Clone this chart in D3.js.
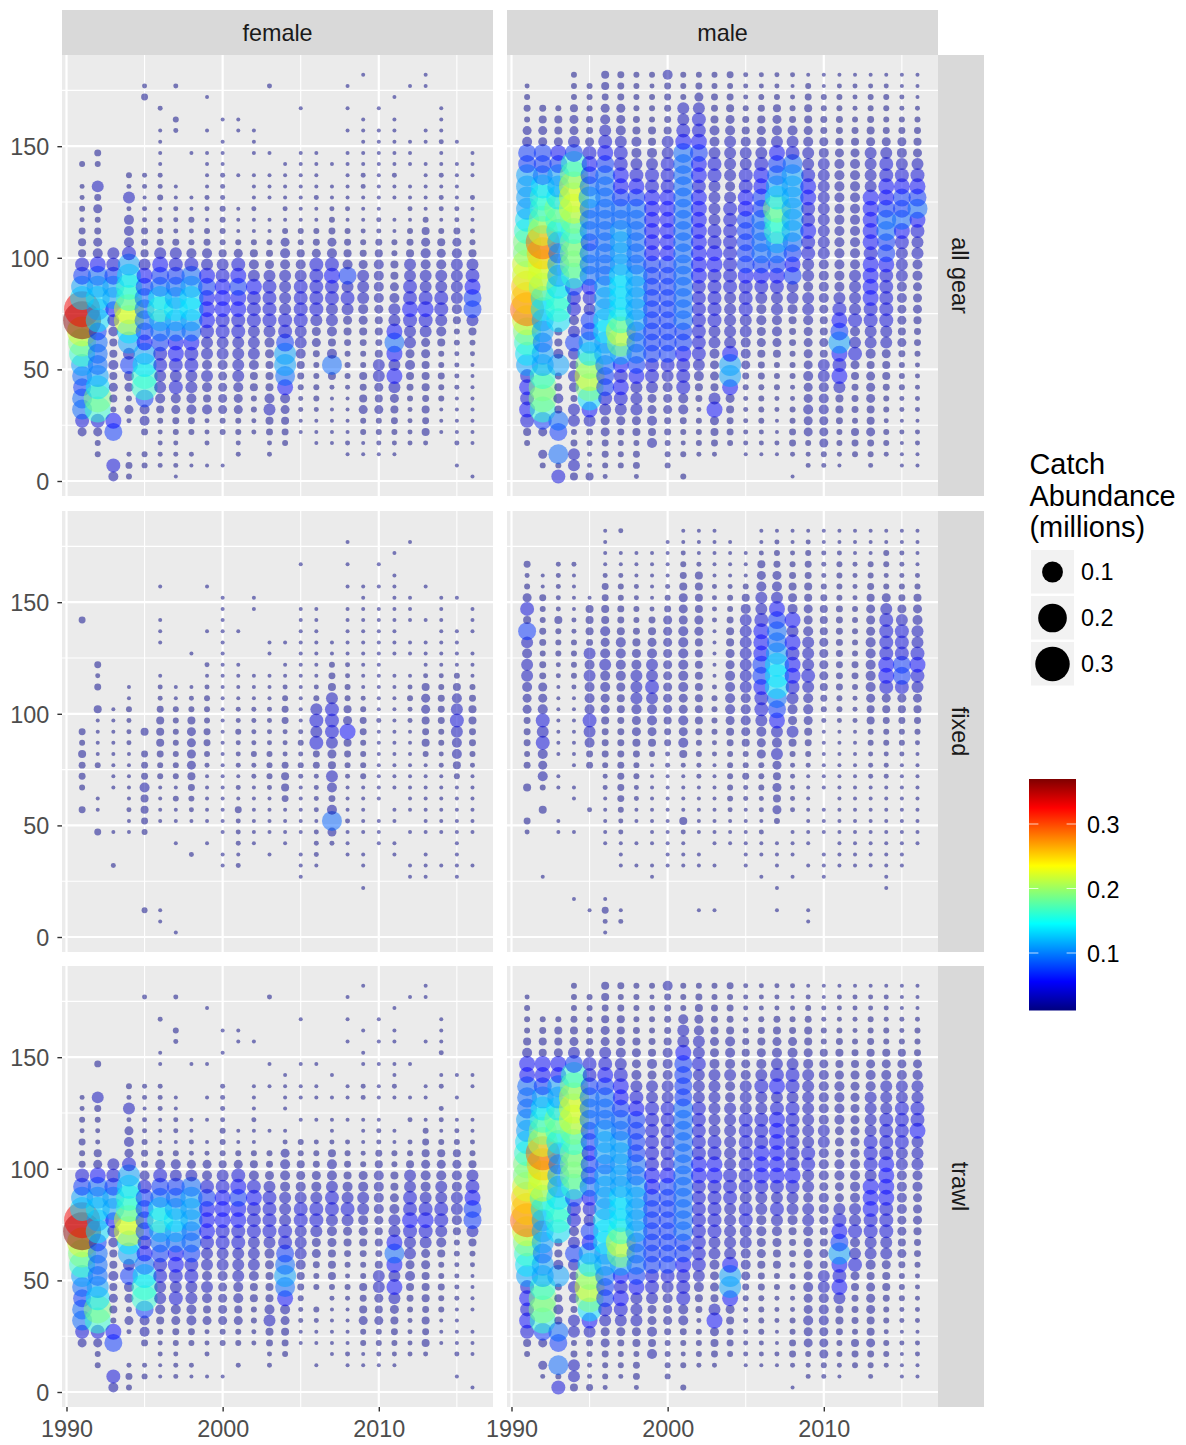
<!DOCTYPE html>
<html>
<head>
<meta charset="utf-8">
<script src="https://cdn.jsdelivr.net/npm/d3@7"></script>
<style>
html,body{margin:0;padding:0;background:#fff}
svg{display:block}
text{font-family:"Liberation Sans",Arial,Helvetica,sans-serif}
</style>
</head>
<body>
<svg id="chart" width="1186" height="1445"></svg>
<script>
const years = [1991,1992,1993,1994,1995,1996,1997,1998,1999,2000,2001,2002,2003,2004,2005,2006,2007,2008,2009,2010,2011,2012,2013,2014,2015,2016];
const lengths = [182,177,172,167,162,157,152,147,142,137,132,127,122,117,112,107,102,97,92,87,82,77,72,67,62,57,52,47,42,37,32,27,22,17,12,7,2];
const sexes = ["female","male"];
const gears = ["all gear","fixed","trawl"];
const xTicks = [1990,2000,2010];
const yTicks = [0,50,100,150];
const legendSizes = [0.1,0.2,0.3];
const legendColours = [0.1,0.2,0.3];
const jet = ["#00007F","#0000FF","#007FFF","#00FFFF","#7FFF7F","#FFFF00","#FF7F00","#FF0000","#7F0000"];
const abundanceRange = [0.0116,0.37];
// abundance (millions) for each letter used in the tables below; "." = no catch
const codeLetters = "abcdefghijklmnopqrstu";
const codeValues = [0.0116,0.0119,0.0128,0.0143,0.0166,0.0194,0.0228,0.0314,0.0426,0.0563,0.0724,0.091,0.112,0.1356,0.1616,0.19,0.221,0.2547,0.2906,0.329,0.37];

// one string per year, lengths from 182 down to 2
const femaleAll = [
"........c. bbcbdeeikm ntuqpomlkl lif....",
".......dc. hdfcdfgjlm nmnklllmnp oifcc..",
".......... ......hikm mjhgeegefe cjk..ig",
".........c bhbgggimno oqqnmhkgfc fb..bdc",
".bd......b babbddehjk lllkjmnook ggd.cc.",
"...b.aaaab bcabcdhjkl nomlkiihhg ecbbbb.",
".b..cb.... aabbbdhikl mnmljjihig fdcbbba",
".......a.. .aacbcgilm nnmljiihhg gdc.ba.",
"..a..a.aaa abbacdghjk jjjihhghge gbbb.a.",
"....a.aaab bbcccceh ij jjiihhgfff fcc..a.",
"....aa...a ..aaacfijk jjiihhhhgf fccbb..",
".....aaa.a aabaaceghj iiihhhgeec cbb....",
".b.....a.a aa.aacdfhi iiihgfeeeg hedbb..",
"........aa aabacfgghh hhiikmmljg fedc...",
"...a...aaa aaaacceghi iiihhgedcb baa....",
".......aaa abaacdfiii iihffdcccc baaa...",
"........a. aabcdfgiji ihhgegleba aaaa...",
".a.a.a.aaa aabacdegkh ihfedcccba aaaba..",
"a...aaaaab baaabcdfhh hgfedccede fccaa..",
"...a.aaaaa aaabbdeggg gfeedehhfe fccba..",
"..a.aaaaab aa.aacceef ghhjljhjhf edcba..",
".a....aaa. aabacdehhi ijihhfgedc bbbb...",
"aa...aa.aa aaacefgghh ijihffeeed edeb...",
"...aaabaab abbacefghh iihgeccdcc aaa....",
"......a.aa aabbdfghhh hgeccbbbba aaab.a.",
".......aaa .baabcehij kkhecbaaaa aaaa..a"
];
const maleAll = [
".bcdcfgkkm mmmnoppqqr rsqponmiji jiec...",
"...deffkkl noopqsrqqp nnmmlmmopp okf.fc.",
"...ceefjkm mnponmlmmn ooneegmdeg elk.lci",
"ccceffhkop qqqpopppok iighkhfhgd hhcdhhe",
".cccddfijk lmlllklllj ihkkmnpqpn jhdcbbe",
"eedfghijkl lllllllllm mmnnmmlkki hffddcb",
"dddffghiij jkllmmmmnn nnoqpmjiji hfdccc.",
"ccccdegghi jkllllllmm mmmlllkjhh hfecddb",
"cbccceeghi ijjjjjjkkk kkkkkkiihf fgeg...",
"gddddehhii ijjjjjjkkk kkkkkkihgf fddccc.",
"ccchhijlll llllllllll lllkkjiiig gdcbc.c",
"cdfhiijkjj ijjjjjjjji iiiiiihged bcccb..",
"ccddegghii hhhhiijjii iiihhgffeh jfedb..",
"dcdefghhhh ghiiiiiiii hhhhhjmmjf eddc...",
"bbbcdeghhi ijjkkkkkji iihhggfdcb bbbba..",
"bbcdefghij jkkllllkji hggffeddcc ccbba..",
"bbcefghjkl mnpoomlkji hhggfecccb baaba..",
"babcdghilm mmmmmlkjkh hgeddcccbb ccddb.a",
"acdeefghhi jjiijiihhg hhgffffgff gffcbb.",
"aaccddfghh hhhhhhhggg gfeefehhgg gfffcb.",
"abccddefgg gggggggggg hijkmjijhe edccba.",
"abbbcdefgg gggggggghh hhighifedd dcedc..",
"abccdefhhh hjjjjjijjj jiihhgefff eefdcb.",
"abcccdfhii jjkllkkjii iiihhfeedc cbccb..",
"aabbcdfghi jkkljihhhg gffefdcccb babaaa.",
"aaabcdefhi jkljihhggf ffeddcbbbb babbaa."
];
const femaleFixed = [
"........d. ........dc eddc.d.... .......",
".......... ..dbd.eaaa ac..aa.d.. .......",
".......... ......aaaa aaaa...a.. b......",
".......... ....aacbbb aaaaabaa.. .......",
".......... ........e. dddgeedc.. ....c..",
".....a..aa a..abbdeee dccaaaa... ....aa.",
".......... ....aacccc cccacaa.a. ......a",
".......... .a..abceff ffedcba..b .......",
".....a...a ..babcccdd cbaaaaa.a. .......",
"......aaaa aaaaaaaaaa aaaaaaaa.a a......",
".........a ..aaaabbcb bbabadbbba b......",
"......aa.. ...aaabbbb cbbaaaaaa. .......",
".......... aa.aaabbbb cccbaaaa.a .......",
".......... a.aabcddbb bdeedaaaa. .......",
"...a...aaa aaaaaaaabc bcbaaaaa.a aa.....",
".......aaa aaaabchihi ddbbbbabbb a......",
".......... aacdehiiih fehgdglfb. .......",
".a.a.a.aaa aabbccefje dcbaaabaaa .......",
".....aaaaa aaaaabcddc cccaaaaa.a a.a....",
"...a.a.aaa aaaaaaabaa aaaaa.aaa. .......",
"..a.aaaaaa aa.aaaaaaa aaaa.aa.aa .......",
".a....aaa. aa.abcbbaa aaaaaa.a.. aa.....",
".....a..a. aaabeffede caaaaaaa.a aa.....",
"......aaaa aaabcdddcc bbaaaaaa.. a......",
"......a..a aaaceghihg gecaaaaaaa aa.....",
".......aaa .aaacdeedd cbaaaaaa.. a......"
];
const maleFixed = [
"...dbcfiek hghhgffddd cd.e..db.. .......",
"....aadccd dcddffgihi gfgc.e.... .a.....",
"...bbbbbec ccbbaaaaaa a.aa..aa.. .......",
"...baaaabb ccccbaaaaa aa.aa..a.. ...a...",
"......aeee dhghgggihg dd...b.... ....a..",
"aaaabddeeg fghggffedd dcbbaaaaa. ...adba",
"b.aabccdde ggggfeeddd dddddcbbaa a...ab.",
"..aaabbccd efghhhgffe dccbbaa.a. a......",
"..aaaaabde fghhihggfe caaaaaaaa. aa.....",
".aaaabcdff fffffffedd bbaaaaaaaa a......",
"aabcdefffg gggggffgfg ebaaaaebaa a......",
"aaabeeeeff eeeeeeeedc cbbaaaaa.a a...a..",
"aaaaabbbba aaaabccccb baaaaaaaa. a...a..",
".aaaabccde effggggfed cccccbaaa. .......",
"..aaaceghh hhhhhgggfe ccdbbaaaaa a......",
"aabefghhij jjkkjiihgf fcccbbabaa .a.....",
"abcdfghjkl lmnnnlkjhg hfefefc.aa a.a.a..",
"aabcdefgjh jijjihgfhe cbbbbb.aaa .a.....",
"abcddeeffg hhhihggfed cbaaaaaaa. a...aa.",
"aabbbcdeee ffffedcbaa aaaa.aaa.a aa.....",
"aabccccddd dddddccbaa aaaaaaaaaa a......",
"aaabbbbccc ccddcbbbaa aaaaaaaaaa a......",
"aaaccdefff gggggfeecc bbbaaaaaaa a......",
"aaccbcfhii iijjifedcc bbbaaaaaaa aaa....",
"aabbbcdfhi iikkifedcc baaaaaaaaa a......",
"aaaabcefgh hijihfedcb aaaaaaaaa. ......."
];
const femaleTrawl = [
".......... bbcbdcdikm ntuqpomlkl lif....",
".......d.. hdcbbefjlm nmnklllmnp oifcc..",
".......... ......hikm mjhgeegefe cjk..ig",
".........c bhbfgfimno oqqnmhkgfc fb..bdc",
".b.......b babbcddgik kkkijlnook ggd.bc.",
"...b..aa.b bbaaacgikl nomlkiihhg ecbbaa.",
".b..cb.... aabbacghkl mnmljjihig fdcbbb.",
".......a.. ..aabbfhlm mmllkiihhg gdc.ba.",
"..a....a.. a.a.abfgik jjjihhghge fbbb.a.",
"....a.a..b bbbcccehij jjiihhgfff fcc..a.",
"....aa.... ...aacfijk jjiihhhgge fcc.b..",
".....a...a aabaacegij iiihhhgeec cbb....",
".b.....a.a ...a.cdfhi iiihgfeeeg hedbb..",
"........aa aa.abfgggh hhiiklmljg fedc...",
"...a...a.a a.a.ccefgh iihhhgedcb baa....",
".......a.a a.a.bcdfgh iihffdcc.c baa.a..",
"........a. a.aabegghi ihgfeeecba aaaa...",
".a.a.a...a a.a.bcdegh ihfedcbcba aaaba..",
"a...a.aa.b b.aaabcfgh hgfedccede fccaa..",
"...a.a.a.a a.abbdeggg gfeedehhfe fccba..",
"..a.aa.aab a..aacceef ghhjljhjhf edcba..",
".a.....a.. a.b.bcehhi ijihhfgedc bbbb...",
"aa...a...a a.acdefggh ijihffeeed edeb...",
"...aaab.ab .bbacefghh iihgeccdcc aaa....",
"........a. a.abcefggh hgeccbbbba aaab.a.",
"........aa ..aabcehij kkhecbaaaa .aaa..a"
];
const maleTrawl = [
".bcccegjjl llmmnoppqr rsqponmiji jiec...",
"...cdeejjk mnopqsrqqo nmmmlmmopp okf.fb.",
"...ceefjjm mnponmlmmn ooneegmdeg elk.lci",
"cccdefhkop qqqpopppok iighkhfhgd hhcdhhe",
".cccddfiik lllkkjkklj ihkjmnpqpn jhdcbbd",
"eedeffhijk lllmmmlmmm mnnnmmlkki hffdccb",
"dcdeefghij jkllmmmmmn nnoqpmjiji hfdccb.",
"ccccdeffgh ijkkkkllmm mmmlllkjhh hfecddb",
"cbcccdegfh hiiiiiijjk kkkkkkiihf fgeg...",
"gddddegggh hiiiiiijkk kkkkkkihgf fdcccc.",
"cccghhjkkk klllllllll lllkkjiiig gdcbc.c",
"cdefghhihh hiiiiijjii iiiiiihged bcccb..",
"ccddeffghh hhhhiijjii iiihhgffeh jfedb..",
"dcddeggghg ghhhhhhiii hhhhhjmmjf eddc...",
"bbbbcdefgh hhiiiiiiih iihhggfdcb bbbba..",
"bbbcdefghi hhiiijjjih hggffeddcc ccbba..",
"bbbdefghij hijjjjjjih ihgfeeccbb baaba..",
"babcdfghii hiiiiiijih hgeddcccbb ccddb.a",
"abcdeefghh hhhhhiihhg hhgffffgff gffcbb.",
"aabbccefgg ggghhgggfg gfeefehhgg gfffcb.",
"abbbcdeefg gggfffggff hijkmjijhe edccba.",
"abbbbcdeff ffffffgggg hhighifedd dcedc..",
"abbccdefgg hhhhiiihjj jiihhgefff eefdcb.",
"abbbccefgh hhiiiijjjj iiihhfeedc cbccb..",
"aaabbcefgh hiiiihhggg gffefdcccb babaaa.",
"aaabccdfgh hiijhhhggf ffeddcbbbb babbaa."
];
const panelTables = {
  "female|all gear": femaleAll, "male|all gear": maleAll,
  "female|fixed": femaleFixed, "male|fixed": maleFixed,
  "female|trawl": femaleTrawl, "male|trawl": maleTrawl
};

const svg = d3.select("#chart");
const colStarts = [62,507], rowStarts = [55,511,966];
const panelW = 431, panelH = 441;
const grey = "#4d4d4d", tickCol = "#333333";

const xFor = c => d3.scaleLinear().domain([1990,2010]).range([colStarts[c]+4.5, colStarts[c]+4.5+312.3]);
const yFor = r => d3.scaleLinear().domain([0,150]).range([rowStarts[r]+426, rowStarts[r]+426-334.8]);
const rScale = d3.scaleSqrt().domain([0,abundanceRange[1]-abundanceRange[0]]).range([2,19]);
const colStops = jet.map((_,i)=>abundanceRange[0]+(abundanceRange[1]-abundanceRange[0])*i/(jet.length-1));
const colour = d3.scaleLinear().domain(colStops).range(jet).interpolate(d3.interpolateRgb).clamp(true);
const radius = v => rScale(v-abundanceRange[0]);

function decode(table){
  const out=[];
  table.forEach((s,i)=>{
    const t=s.replace(/ /g,"");
    if(t.length!==lengths.length) console.error("bad row",i,t.length);
    for(let j=lengths.length-1;j>=0;j--){
      const k=codeLetters.indexOf(t[j]);
      if(k>=0) out.push({year:years[i],len:lengths[j],v:codeValues[k]});
    }
  });
  return out;
}

const defs = svg.append("defs");
gears.forEach((gear,r)=>{
  sexes.forEach((sex,c)=>{
    const x=xFor(c), y=yFor(r), px=colStarts[c], py=rowStarts[r];
    const id=`clip${r}${c}`;
    defs.append("clipPath").attr("id",id).append("rect").attr("x",px).attr("y",py).attr("width",panelW).attr("height",panelH);
    const g=svg.append("g");
    g.append("rect").attr("x",px).attr("y",py).attr("width",panelW).attr("height",panelH).attr("fill","#ebebeb");
    const grid=g.append("g").attr("clip-path",`url(#${id})`);
    [1995,2005,2015].forEach(t=>grid.append("line").attr("x1",x(t)).attr("x2",x(t)).attr("y1",py).attr("y2",py+panelH).attr("stroke","#fff").attr("stroke-width",1.1));
    [25,75,125,175].forEach(t=>grid.append("line").attr("y1",y(t)).attr("y2",y(t)).attr("x1",px).attr("x2",px+panelW).attr("stroke","#fff").attr("stroke-width",1.1));
    xTicks.forEach(t=>grid.append("line").attr("x1",x(t)).attr("x2",x(t)).attr("y1",py).attr("y2",py+panelH).attr("stroke","#fff").attr("stroke-width",2.2));
    yTicks.forEach(t=>grid.append("line").attr("y1",y(t)).attr("y2",y(t)).attr("x1",px).attr("x2",px+panelW).attr("stroke","#fff").attr("stroke-width",2.2));
    const data=decode(panelTables[sex+"|"+gear]);
    g.append("g").attr("clip-path",`url(#${id})`).selectAll("circle").data(data).join("circle")
      .attr("cx",d=>x(d.year)).attr("cy",d=>y(d.len)).attr("r",d=>radius(d.v))
      .attr("fill",d=>colour(d.v)).attr("fill-opacity",0.5);
    if(c===0){
      const ax=svg.append("g").attr("transform",`translate(${px},0)`)
        .call(d3.axisLeft(y).tickValues(yTicks).tickSize(4.6).tickPadding(8.2));
      ax.select(".domain").remove();
      ax.selectAll("line").attr("stroke",tickCol).attr("stroke-width",1.4);
      ax.selectAll("text").attr("fill",grey).style("font-size","23.4px").style("font-family",'"Liberation Sans"').attr("dy","0.36em");
    }
    if(r===2){
      const ax=svg.append("g").attr("transform",`translate(0,${py+panelH})`)
        .call(d3.axisBottom(x).tickValues(xTicks).tickFormat(d3.format("d")).tickSize(4.6).tickPadding(9));
      ax.select(".domain").remove();
      ax.selectAll("line").attr("stroke",tickCol).attr("stroke-width",1.4);
      ax.selectAll("text").attr("fill",grey).style("font-size","23.4px").style("font-family",'"Liberation Sans"');
    }
    if(r===0){
      svg.append("rect").attr("x",px).attr("y",10).attr("width",panelW).attr("height",45).attr("fill","#d9d9d9");
      svg.append("text").attr("x",px+panelW/2).attr("y",41).attr("text-anchor","middle").attr("fill","#1a1a1a").style("font-size","23.4px").text(sex);
    }
    if(c===1){
      svg.append("rect").attr("x",938).attr("y",py).attr("width",46).attr("height",panelH).attr("fill","#d9d9d9");
      svg.append("text").attr("transform",`translate(952,${py+panelH/2}) rotate(90)`).attr("text-anchor","middle").attr("fill","#1a1a1a").style("font-size","23.4px").text(gear);
    }
  });
});

// size legend
["Catch","Abundance","(millions)"].forEach((t,i)=>{
  svg.append("text").attr("x",1029.5).attr("y",474+i*31.5).attr("fill","#000").style("font-size","28.9px").text(t);
});
legendSizes.forEach((v,i)=>{
  const top=550+i*46;
  svg.append("rect").attr("x",1031).attr("y",top).attr("width",43).attr("height",43.5).attr("fill","#f2f2f2");
  svg.append("circle").attr("cx",1052.5).attr("cy",top+22).attr("r",radius(v)).attr("fill","#000");
  svg.append("text").attr("x",1081).attr("y",top+29.5).attr("fill","#000").style("font-size","23.4px").text(v.toFixed(1));
});

// colour bar
const barX=1029, barW=47, barTop=779, barBottom=1010.5;
const barY=d3.scaleLinear().domain([0.1,0.3]).range([953,824]);
const grad=defs.append("linearGradient").attr("id","bar").attr("x1",0).attr("x2",0).attr("y1",1).attr("y2",0);
colStops.forEach((v,i)=>grad.append("stop").attr("offset",i/(colStops.length-1)).attr("stop-color",colour(v)));
svg.append("rect").attr("x",barX).attr("y",barTop).attr("width",barW).attr("height",barBottom-barTop).attr("fill","url(#bar)");
legendColours.forEach(v=>{
  const y=barY(v);
  svg.append("line").attr("x1",barX).attr("x2",barX+9.4).attr("y1",y).attr("y2",y).attr("stroke","#fff").attr("stroke-opacity",.75).attr("stroke-width",1);
  svg.append("line").attr("x1",barX+barW-9.4).attr("x2",barX+barW).attr("y1",y).attr("y2",y).attr("stroke","#fff").attr("stroke-opacity",.75).attr("stroke-width",1);
  svg.append("text").attr("x",1087).attr("y",y+9.3).attr("fill","#000").style("font-size","23.4px").text(v.toFixed(1));
});
</script>
</body>
</html>
